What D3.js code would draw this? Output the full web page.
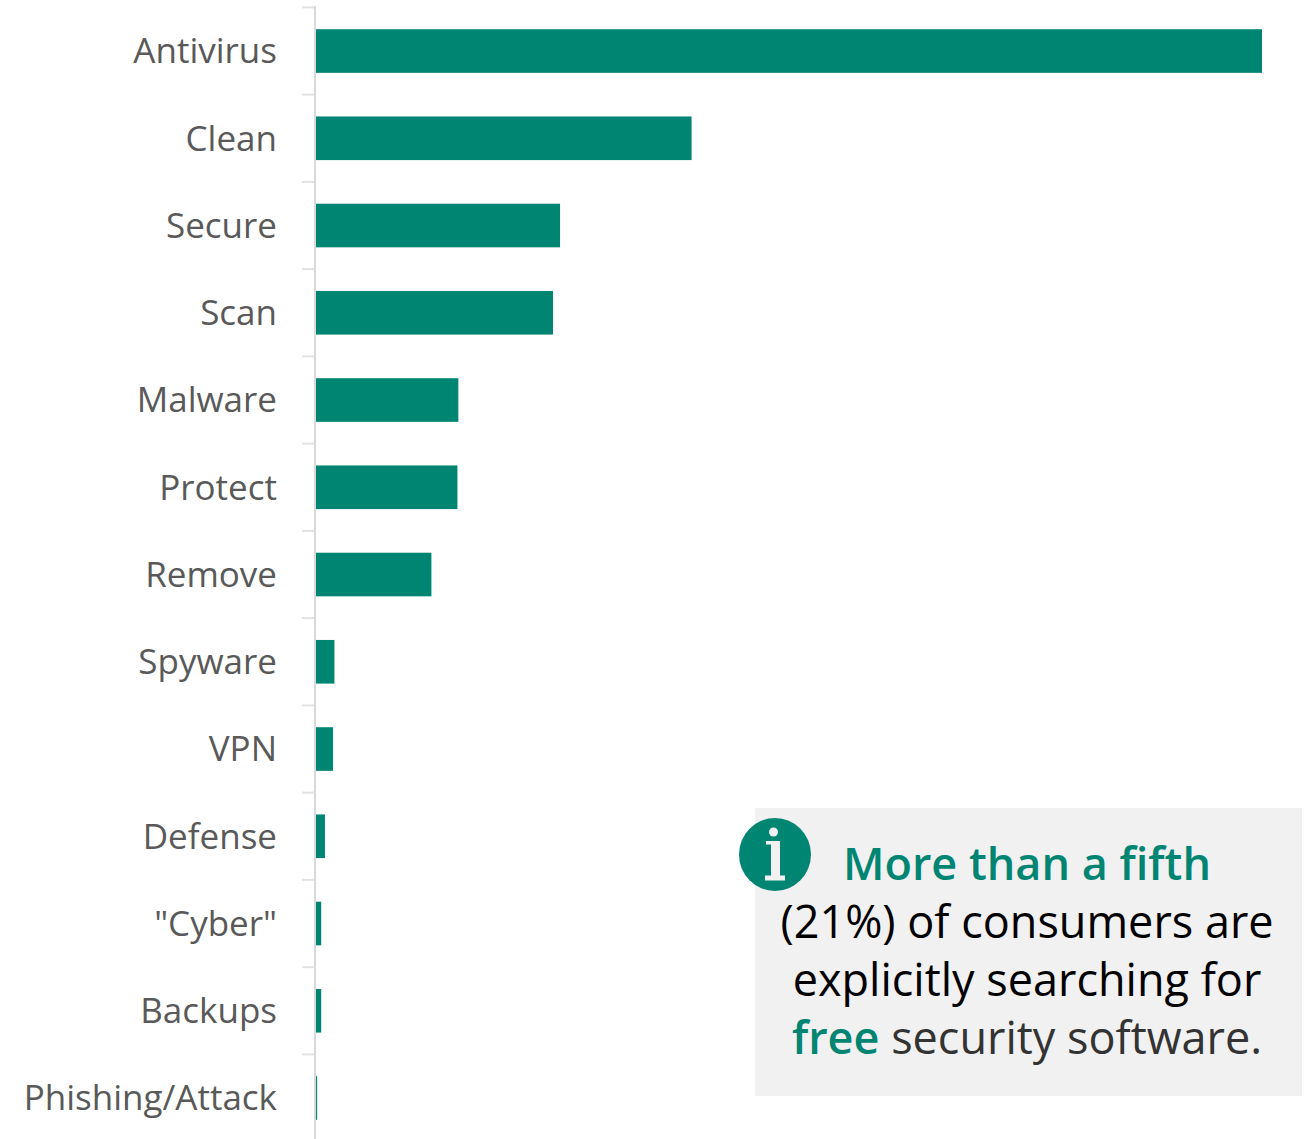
<!DOCTYPE html>
<html>
<head>
<meta charset="utf-8">
<script src="https://cdn.jsdelivr.net/npm/d3@7/dist/d3.min.js"></script>
<style>
html,body{margin:0;padding:0;background:#fff;}
svg{display:block;}
text{font-family:"Open Sans","Noto Sans",sans-serif;}
</style>
</head>
<body>
<svg id="chart" width="1314" height="1139"></svg>
<script>
const categories = ["Antivirus","Clean","Secure","Scan","Malware","Protect","Remove","Spyware","VPN","Defense","\"Cyber\"","Backups","Phishing/Attack"];
const shareOfSearches = [100,39.7,25.8,25.05,15.05,14.95,12.2,1.95,1.8,0.95,0.55,0.55,0.12];
const noteLines = [
  [{t:"More than a fifth",c:"#008573",w:600}],
  [{t:"(21%) of consumers are",c:"#000",w:400}],
  [{t:"explicitly searching for",c:"#000",w:400}],
  [{t:"free",c:"#008573",w:600},{t:" security software.",c:"#333",w:400}]
];

const svg = d3.select("#chart");
const teal = "#008573";
const panelFill = "#f1f1f1";

const x = d3.scaleLinear().domain([0,100]).range([316,1262]);
const y = d3.scaleBand().domain(categories).range([7.4,1141.65]).paddingInner(0.5).paddingOuter(0.25);

// Category axis: light spine with tick marks between the bands
const axis = d3.axisLeft(y).tickSize(0).tickPadding(38);
const axisG = svg.append("g").attr("transform","translate(315,0)").call(axis);
axisG.select(".domain").remove();
axisG.selectAll("text").attr("font-size",35).attr("fill","#595959").attr("dy","0.35em");

const step = y.step();
const boundaries = d3.range(categories.length).map(i => y(categories[i]) - y.paddingOuter()*step);
svg.append("g").selectAll("line").data(boundaries).join("line")
  .attr("x1",302).attr("x2",315).attr("y1",d=>d).attr("y2",d=>d)
  .attr("stroke","#e2e2e2").attr("stroke-width",2);
svg.append("line").attr("x1",315).attr("x2",315).attr("y1",6).attr("y2",1139)
  .attr("stroke","#d9d9d9").attr("stroke-width",2);

// Bars
svg.append("g").selectAll("rect").data(categories).join("rect")
  .attr("x",x(0)).attr("y",d=>y(d))
  .attr("width",(d,i)=>x(shareOfSearches[i])-x(0))
  .attr("height",y.bandwidth())
  .attr("fill",teal);

// Callout panel with the round info badge on its corner
svg.append("rect").attr("x",755).attr("y",808).attr("width",547).attr("height",288).attr("fill",panelFill);
const ic = svg.append("g").attr("transform","translate(775,854.5)");
ic.append("ellipse").attr("rx",36).attr("ry",36.5).attr("fill",teal);
ic.append("circle").attr("cx",-1.5).attr("cy",-22.5).attr("r",4.5).attr("fill",panelFill);
ic.append("path").attr("fill",panelFill)
  .attr("d","M-9,-13.5H5V21H10V26H-10V21H-4V-10H-9Z");

const noteY = [880,938,996,1054];
const note = svg.append("g");
noteLines.forEach((runs,i)=>{
  const t = note.append("text").attr("x",1027).attr("y",noteY[i])
    .attr("text-anchor","middle").attr("font-size",45);
  runs.forEach(r=>t.append("tspan").attr("fill",r.c).attr("font-weight",r.w).text(r.t));
});
</script>
</body>
</html>
